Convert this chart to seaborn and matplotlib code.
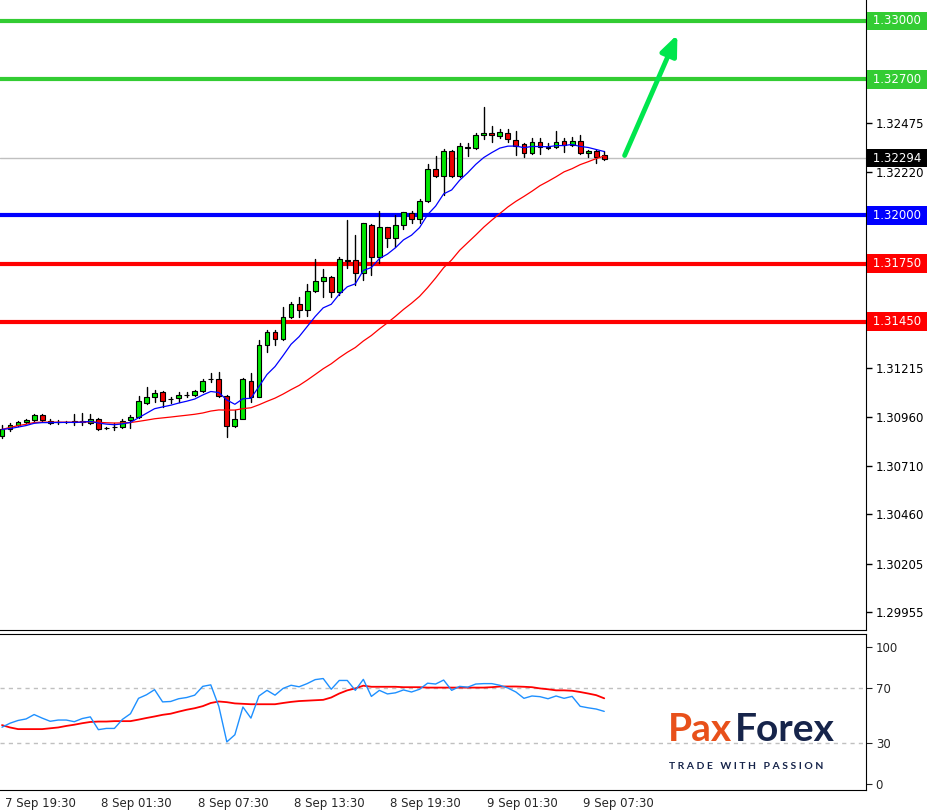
import numpy as np
import pandas as pd
import seaborn as sns
import matplotlib
matplotlib.use("Agg")
import matplotlib.pyplot as plt
from matplotlib.patches import Rectangle
import matplotlib.transforms as mtransforms

# ---------------- data ----------------
opens = [1.30862,1.30896,1.30917,1.30932,1.30944,1.30968,1.30941,1.30934,1.30934,1.30937,
         1.30934,1.30927,1.30948,1.30903,1.30907,1.30907,1.30944,1.30958,1.31030,1.31061,
         1.31087,1.31051,1.31056,1.31075,1.31075,1.31092,1.31154,1.31154,1.31068,1.30913,
         1.30948,1.31147,1.31065,1.31329,1.31396,1.31363,1.31473,1.31540,1.31511,1.31607,
         1.31659,1.31683,1.31605,1.31768,1.31768,1.31700,1.31951,1.31782,1.31937,1.31880,
         1.31947,1.32009,1.31981,1.32072,1.32235,1.32201,1.32330,1.32201,1.32344,1.32344,
         1.32411,1.32421,1.32407,1.32421,1.32387,1.32364,1.32318,1.32376,1.32351,1.32349,
         1.32382,1.32361,1.32383,1.32318,1.32330,1.32308]
closes = [1.30896,1.30917,1.30934,1.30944,1.30968,1.30944,1.30931,1.30934,1.30934,1.30932,
          1.30939,1.30951,1.30900,1.30903,1.30909,1.30941,1.30958,1.31040,1.31061,1.31085,
          1.31044,1.31051,1.31071,1.31075,1.31092,1.31147,1.31154,1.31068,1.30913,1.30948,
          1.31154,1.31065,1.31329,1.31396,1.31363,1.31473,1.31540,1.31511,1.31607,1.31659,
          1.31679,1.31605,1.31772,1.31766,1.31700,1.31957,1.31782,1.31937,1.31880,1.31947,
          1.32014,1.31981,1.32072,1.32235,1.32201,1.32330,1.32201,1.32356,1.32352,1.32412,
          1.32421,1.32411,1.32426,1.32390,1.32358,1.32318,1.32375,1.32352,1.32348,1.32378,
          1.32361,1.32383,1.32318,1.32330,1.32301,1.32291]
highs = [1.30919,1.30927,1.30941,1.30950,1.30973,1.30973,1.30948,1.30944,1.30941,1.30975,
         1.30983,1.30975,1.30953,1.30910,1.30927,1.30948,1.30970,1.31068,1.31116,1.31099,
         1.31092,1.31065,1.31089,1.31087,1.31099,1.31154,1.31188,1.31192,1.31073,1.30996,
         1.31159,1.31185,1.31356,1.31408,1.31408,1.31525,1.31554,1.31576,1.31645,1.31772,
         1.31721,1.31686,1.31786,1.31975,1.31897,1.31961,1.31954,1.32021,1.31940,1.31999,
         1.32017,1.32021,1.32084,1.32263,1.32304,1.32339,1.32335,1.32373,1.32373,1.32421,
         1.32558,1.32459,1.32443,1.32442,1.32433,1.32369,1.32395,1.32395,1.32370,1.32433,
         1.32399,1.32404,1.32414,1.32335,1.32335,1.32330]
lows = [1.30850,1.30889,1.30913,1.30927,1.30939,1.30941,1.30924,1.30924,1.30927,1.30919,
        1.30919,1.30924,1.30893,1.30896,1.30893,1.30903,1.30903,1.30953,1.31027,1.31037,
        1.31013,1.31034,1.31039,1.31061,1.31070,1.31089,1.31142,1.31061,1.30855,1.30910,
        1.31144,1.31039,1.31061,1.31296,1.31331,1.31356,1.31468,1.31473,1.31480,1.31604,
        1.31576,1.31576,1.31588,1.31726,1.31640,1.31665,1.31693,1.31751,1.31837,1.31837,
        1.31927,1.31957,1.31957,1.32069,1.32198,1.32103,1.32198,1.32197,1.32304,1.32341,
        1.32390,1.32378,1.32395,1.32378,1.32311,1.32297,1.32314,1.32313,1.32339,1.32345,
        1.32327,1.32358,1.32313,1.32301,1.32267,1.32284]

rsi_values = [41.5,44.4,46.4,47.5,50.7,48.1,45.8,46.7,46.7,45.5,47.8,49.0,39.7,40.6,40.6,47.2,
              51.3,62.5,65.1,68.8,59.9,60.2,62.2,63.1,64.8,71.2,72.3,56.7,30.8,36.0,56.2,48.1,
              64.2,68.3,64.8,69.7,72.0,70.9,73.2,76.1,76.9,69.1,75.5,75.5,68.3,76.3,63.9,68.3,
              65.7,66.5,68.6,67.1,69.1,73.5,72.9,75.8,68.3,71.2,70.6,72.9,73.2,73.2,72.0,70.0,
              67.1,62.5,64.2,63.7,62.2,64.2,62.5,63.9,56.7,55.6,54.7,53.0]
rsi_signal = [43.0,41.3,40.1,40.1,40.1,40.1,40.7,41.3,42.4,43.3,44.4,45.3,45.6,45.6,45.9,45.9,
              45.9,47.0,48.2,49.3,50.5,51.3,52.8,54.2,55.3,56.8,59.1,60.2,59.7,58.8,58.5,58.2,
              58.2,58.2,58.2,59.1,59.9,60.5,60.8,61.1,61.4,63.1,66.0,68.3,69.7,71.7,70.9,70.9,
              70.9,70.9,70.6,70.6,70.6,70.3,70.3,70.3,70.3,70.3,70.3,70.3,70.3,70.6,71.1,71.1,
              71.1,70.9,70.6,69.7,69.1,68.3,68.3,68.0,67.1,66.0,64.8,62.5]

price_ticks = [1.32975,1.32725,1.32475,1.32220,1.31970,1.31720,1.31465,1.31215,1.30960,
               1.30710,1.30460,1.30205,1.29955]
hidden_ticks = [1.32975,1.32725,1.31970,1.31720,1.31465]
levels = [1.33000,1.32700,1.32000,1.31750,1.31450]
level_colors = ["#33cc33","#33cc33","#0000ff","#ff0000","#ff0000"]
last_price = 1.32294
time_labels = ["7 Sep 19:30","8 Sep 01:30","8 Sep 07:30","8 Sep 13:30","8 Sep 19:30",
               "9 Sep 01:30","9 Sep 07:30"]
time_label_pos = [4.75,16.75,28.75,40.75,52.75,64.75,76.75]
rsi_ticks = [100,70,30,0]

df = pd.DataFrame({"o":opens,"h":highs,"l":lows,"c":closes})
df["i"] = np.arange(len(df))
df["ma_fast"] = df["c"].ewm(span=8, adjust=False).mean()
df["ma_slow"] = df["c"].rolling(26, min_periods=1).mean()
df["rsi"] = rsi_values
df["sig"] = rsi_signal

# ---------------- figure ----------------
sns.set_style("white")
plt.rcParams['font.family'] = ['DejaVu Sans']
W, H = 928, 810
fig = plt.figure(figsize=(W/100, H/100), dpi=100)
axr = 866/W
ax = fig.add_axes([0, 1-630/H, axr, 630/H])
ax2 = fig.add_axes([0, 1-790/H, axr, (790-634)/H])

xmin, xmax = -0.25, 107.6
for a in (ax, ax2):
    a.set_xlim(xmin, xmax)
    for s in ("left", "top", "bottom"):
        a.spines[s].set_visible(False)
    a.spines["right"].set_color("black")
ax.spines["bottom"].set_visible(True)
ax.spines["bottom"].set_color("black")
ax2.spines["top"].set_visible(True)
ax2.spines["top"].set_color("black")
ax2.spines["bottom"].set_visible(True)
ax2.spines["bottom"].set_color("black")

ax.set_ylim(1.29863, 1.33108)

for r in df.itertuples():
    up = r.c >= r.o
    col = "#00e600" if up else "#ee0000"
    ax.plot([r.i, r.i], [r.l, r.h], color="black", lw=1, zorder=3)
    lo, hi = min(r.o, r.c), max(r.o, r.c)
    hgt = max(hi - lo, 0.00001)
    ax.add_patch(Rectangle((r.i - 0.3, lo), 0.6, hgt, facecolor=col,
                           edgecolor="black", lw=0.8, zorder=4))

sns.lineplot(data=df, x="i", y="ma_slow", ax=ax, color="#ff0000", lw=0.9, zorder=5)
sns.lineplot(data=df, x="i", y="ma_fast", ax=ax, color="#0000ff", lw=0.9, zorder=5)

ax.axhline(last_price, color="#c0c0c0", lw=1, zorder=1)
for lv, lc in zip(levels, level_colors):
    ax.axhline(lv, color=lc, lw=3, zorder=2)

ax.annotate("", xy=(84.25, 1.32943), xytext=(77.4, last_price),
            arrowprops=dict(arrowstyle="-|>,head_length=1.2,head_width=0.5",
                            color="#00e64d", lw=3.5), zorder=6)

ax.yaxis.tick_right()
ax.set_yticks(price_ticks)
ax.set_yticklabels(["" if t in hidden_ticks else f"{t:.5f}" for t in price_ticks])
ax.tick_params(axis="y", length=4, width=1, color="black", labelsize=8.5, pad=3,
               labelcolor="black")
ax.set_xticks([])
ax.set_xlabel(""); ax.set_ylabel("")

trans = mtransforms.blended_transform_factory(ax.transAxes, ax.transData)
for lv, lc in zip(levels + [last_price], level_colors + ["black"]):
    ax.text(1.004, lv, f" {lv:.5f} ", transform=trans, va="center", ha="left",
            fontsize=8.5, color="white", zorder=10, clip_on=False,
            bbox=dict(boxstyle="square,pad=0.25", facecolor=lc, edgecolor="none"))

ax2.set_ylim(-4.2, 109.3)
for lvl in (70, 30):
    ax2.axhline(lvl, color="#c0c0c0", lw=1, ls=(0, (3, 3)), zorder=1)
sns.lineplot(data=df, x="i", y="sig", ax=ax2, color="#ff0000", lw=1.3, zorder=3)
sns.lineplot(data=df, x="i", y="rsi", ax=ax2, color="#1e90ff", lw=1, zorder=4)
ax2.yaxis.tick_right()
ax2.set_yticks(rsi_ticks)
ax2.set_yticklabels([str(t) for t in rsi_ticks])
ax2.tick_params(axis="y", length=4, labelsize=8.5, pad=3)
ax2.set_xticks(time_label_pos)
ax2.set_xticklabels(time_labels)
ax2.tick_params(axis="x", length=3, labelsize=8.5, pad=2)
ax2.set_xlabel(""); ax2.set_ylabel("")

fig.text(668/W, 1-747/H, "Pax", fontsize=28, color="#e8501a", fontweight="bold",
         family="Lato", va="bottom", ha="left")
fig.text(735/W, 1-747/H, "Forex", fontsize=28, color="#16244a", fontweight="bold",
         family="Lato", va="bottom", ha="left")
fig.text(669/W, 1-771/H, "T R A D E   W I T H   P A S S I O N", fontsize=7.5,
         color="#16244a", fontweight="bold", family="Lato", va="bottom", ha="left")

fig.savefig("out.png", dpi=100, facecolor="white")
